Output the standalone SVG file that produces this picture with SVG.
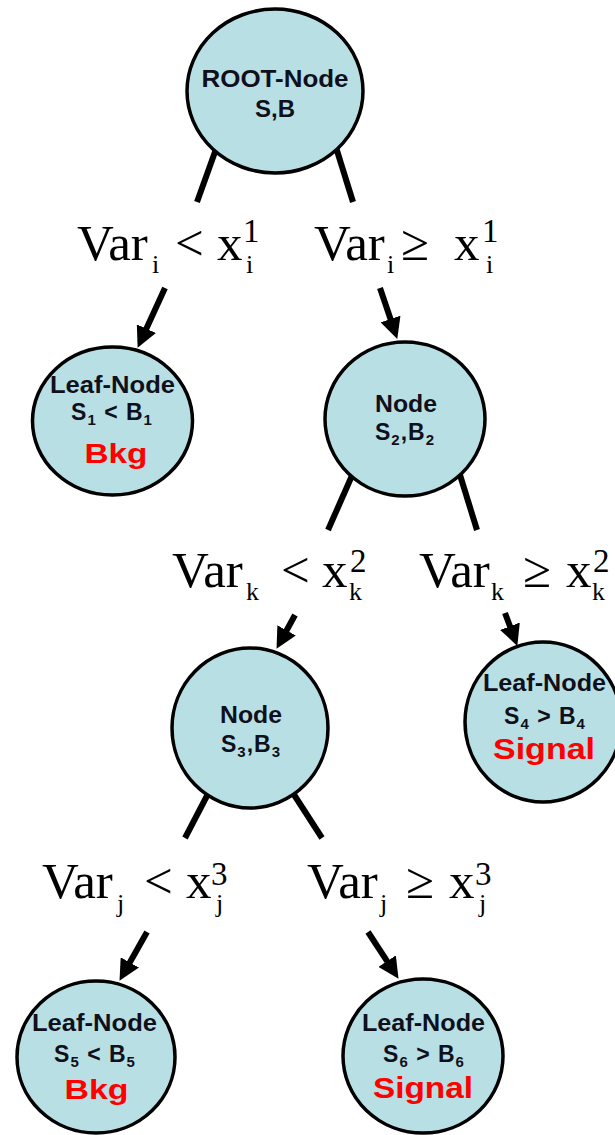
<svg xmlns="http://www.w3.org/2000/svg" width="615" height="1135" viewBox="0 0 615 1135">
<defs>
<marker id="ah" markerUnits="userSpaceOnUse" viewBox="0 0 20 20" markerWidth="21" markerHeight="21" refX="2" refY="10" orient="auto">
<path d="M0,0 L20,10 L0,20 z" fill="#000"/>
</marker>
<style>
.node{fill:#b8e0e4;stroke:#000;stroke-width:3.5}
.stub{stroke:#000;stroke-width:6;fill:none}
.arr{stroke:#000;stroke-width:6;fill:none;marker-end:url(#ah)}
.t{font-family:"Liberation Sans",Arial,sans-serif;font-weight:bold;fill:#10101c;text-anchor:middle}
.r{font-family:"Liberation Sans",Arial,sans-serif;font-weight:bold;fill:#ff0000;text-anchor:middle}
.m{font-family:"Liberation Serif","Times New Roman",serif;fill:#000;font-size:51px}
.sb{font-family:"Liberation Serif","Times New Roman",serif;fill:#000;font-size:26px}
.sp{font-family:"Liberation Serif","Times New Roman",serif;fill:#000;font-size:33px}
</style>
</defs>
<g id="connectors">
<line class="stub" x1="220" y1="138" x2="197" y2="202"/>
<line class="stub" x1="334" y1="141" x2="353" y2="202"/>
<line class="arr" x1="165" y1="288" x2="145.5" y2="330.6"/>
<line class="arr" x1="380" y1="288" x2="391.2" y2="321"/>
<line class="stub" x1="358" y1="462" x2="328" y2="530"/>
<line class="stub" x1="456" y1="462" x2="477" y2="530"/>
<line class="arr" x1="295" y1="615" x2="285.6" y2="632.2"/>
<line class="arr" x1="505" y1="613" x2="510.7" y2="628.2"/>
<line class="stub" x1="210" y1="790" x2="185" y2="838"/>
<line class="stub" x1="291" y1="790" x2="322" y2="838"/>
<line class="arr" x1="147" y1="932" x2="128.8" y2="964.3"/>
<line class="arr" x1="368" y1="932" x2="388.2" y2="962.9"/>
</g>
<g id="labels">
<text class="m" x="77" y="260">Var</text><text class="sb" x="152" y="273">i</text><text class="m" x="175" y="260">&lt;</text><text class="m" x="217" y="260">x</text><text class="sp" x="243" y="242">1</text><text class="sb" x="246" y="273">i</text>
<text class="m" x="314" y="260">Var</text><text class="sb" x="387" y="273">i</text><text class="m" x="401" y="260">≥</text><text class="m" x="454" y="260">x</text><text class="sp" x="482" y="242">1</text><text class="sb" x="486" y="273">i</text>
<text class="m" x="172" y="587">Var</text><text class="sb" x="246" y="600">k</text><text class="m" x="281" y="587">&lt;</text><text class="m" x="322" y="587">x</text><text class="sp" x="350" y="572">2</text><text class="sb" x="349" y="600">k</text>
<text class="m" x="419" y="587">Var</text><text class="sb" x="491" y="600">k</text><text class="m" x="523" y="587">≥</text><text class="m" x="566" y="587">x</text><text class="sp" x="593" y="572">2</text><text class="sb" x="592" y="600">k</text>
<text class="m" x="42" y="898">Var</text><text class="sb" x="117" y="912">j</text><text class="m" x="144" y="898">&lt;</text><text class="m" x="186" y="898">x</text><text class="sp" x="211" y="885">3</text><text class="sb" x="216" y="912">j</text>
<text class="m" x="307" y="898">Var</text><text class="sb" x="380" y="912">j</text><text class="m" x="406" y="898">≥</text><text class="m" x="449" y="898">x</text><text class="sp" x="475" y="885">3</text><text class="sb" x="479" y="912">j</text>
</g>
<g id="root">
<ellipse class="node" cx="275" cy="91" rx="88" ry="82"/>
<text class="t" x="275" y="87" font-size="24" textLength="147" lengthAdjust="spacingAndGlyphs">ROOT-Node</text>
<text class="t" x="275" y="117" font-size="24">S,B</text>
</g>
<g id="leaf1">
<ellipse class="node" cx="112.5" cy="421" rx="80" ry="74"/>
<text class="t" x="112.5" y="393" font-size="23" textLength="125" lengthAdjust="spacingAndGlyphs">Leaf-Node</text>
<text class="t" x="112" y="420" font-size="23" letter-spacing="1">S<tspan font-size="15" dy="5">1</tspan><tspan dy="-5"> &lt; B</tspan><tspan font-size="15" dy="5">1</tspan></text>
<text class="r" x="116" y="463" font-size="28" textLength="63" lengthAdjust="spacingAndGlyphs">Bkg</text>
</g>
<g id="node2">
<ellipse class="node" cx="405" cy="419" rx="80" ry="77"/>
<text class="t" x="406" y="412" font-size="23" textLength="62" lengthAdjust="spacingAndGlyphs">Node</text>
<text class="t" x="405" y="440" font-size="23" letter-spacing="1">S<tspan font-size="15" dy="5">2</tspan><tspan dy="-5">,B</tspan><tspan font-size="15" dy="5">2</tspan></text>
</g>
<g id="node3">
<ellipse class="node" cx="250" cy="728" rx="78" ry="80"/>
<text class="t" x="251" y="723" font-size="23" textLength="62" lengthAdjust="spacingAndGlyphs">Node</text>
<text class="t" x="251" y="752" font-size="23" letter-spacing="1">S<tspan font-size="15" dy="5">3</tspan><tspan dy="-5">,B</tspan><tspan font-size="15" dy="5">3</tspan></text>
</g>
<g id="leaf4">
<ellipse class="node" cx="543" cy="722" rx="78" ry="80"/>
<text class="t" x="544.5" y="691" font-size="23" textLength="123" lengthAdjust="spacingAndGlyphs">Leaf-Node</text>
<text class="t" x="545" y="724" font-size="23" letter-spacing="1">S<tspan font-size="15" dy="5">4</tspan><tspan dy="-5"> &gt; B</tspan><tspan font-size="15" dy="5">4</tspan></text>
<text class="r" x="544" y="759" font-size="29" textLength="102" lengthAdjust="spacingAndGlyphs">Signal</text>
</g>
<g id="leaf5">
<ellipse class="node" cx="96" cy="1057" rx="79" ry="76"/>
<text class="t" x="94.5" y="1031" font-size="23" textLength="125" lengthAdjust="spacingAndGlyphs">Leaf-Node</text>
<text class="t" x="95" y="1062" font-size="23" letter-spacing="1">S<tspan font-size="15" dy="5">5</tspan><tspan dy="-5"> &lt; B</tspan><tspan font-size="15" dy="5">5</tspan></text>
<text class="r" x="96.5" y="1099" font-size="28" textLength="64" lengthAdjust="spacingAndGlyphs">Bkg</text>
</g>
<g id="leaf6">
<ellipse class="node" cx="423" cy="1056" rx="80" ry="77"/>
<text class="t" x="423.5" y="1031" font-size="23" textLength="123" lengthAdjust="spacingAndGlyphs">Leaf-Node</text>
<text class="t" x="424" y="1062" font-size="23" letter-spacing="1">S<tspan font-size="15" dy="5">6</tspan><tspan dy="-5"> &gt; B</tspan><tspan font-size="15" dy="5">6</tspan></text>
<text class="r" x="423" y="1098" font-size="29" textLength="100" lengthAdjust="spacingAndGlyphs">Signal</text>
</g>
</svg>
